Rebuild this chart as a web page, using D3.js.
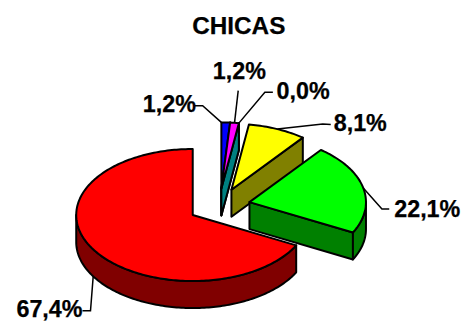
<!DOCTYPE html>
<html><head><meta charset="utf-8">
<script src="https://cdn.jsdelivr.net/npm/d3@7/dist/d3.min.js"></script>
<style>html,body{margin:0;padding:0;background:#fff}svg{display:block}text{font-family:"Liberation Sans",Arial,sans-serif;font-weight:bold;fill:#000;stroke:#000;stroke-width:.25px}</style>
</head><body><div id="c"></div>
<script>
const title = "CHICAS";
const categories = ["a","b","c","d","e","f"];
const values = [1.2, 1.2, 0.0, 8.1, 22.1, 67.4];
const labels = ["1,2%","1,2%","0,0%","8,1%","22,1%","67,4%"];
const topColors = ["#0000ff","#ff00ff","#00ffff","#ffff00","#00ff00","#ff0000"];
const sideColors = ["#000080","#800080","#008080","#808000","#008000","#800000"];

const W=476,H=323, cx=219.2, cy=205.9, rx=116.5, ry=66, depth=27, explode=0.266, SW=2;
const svg=d3.select("#c").append("svg").attr("width",W).attr("height",H);
const x=d3.scaleLinear().domain([-1,1]).range([cx-rx,cx+rx]);
const y=d3.scaleLinear().domain([-1,1]).range([cy-ry,cy+ry]);
const pie=d3.pie().value(d=>d).sort(null);
const arcs=pie(values);
const tau=Math.PI*2;
const clusterBelow=0.05, clusterAngle=4*Math.PI/180; // tiny slices move out together
const P=(u,v,dz=0)=>[x(u),y(v)+dz];
function apex(a){const m=a.endAngle<tau*clusterBelow?clusterAngle:(a.startAngle+a.endAngle)/2;return [explode*Math.sin(m),-explode*Math.cos(m)];}
function rim(a,t,dz=0){const o=apex(a);return P(o[0]+Math.sin(t),o[1]-Math.cos(t),dz);}
function rimPts(a,t0,t1,dz=0){const n=Math.max(1,Math.ceil((t1-t0)/0.02));return d3.range(n+1).map(i=>rim(a,t0+(t1-t0)*i/n,dz));}
const line=d3.line();
const g=svg.append("g").attr("stroke","#000").attr("stroke-width",SW).attr("stroke-linejoin","round");
function poly(pts,fill){g.append("path").attr("d",line(pts)+"Z").attr("fill",fill);}

// side walls
arcs.forEach((a,i)=>{
  const o=apex(a), c=P(o[0],o[1]), cd=P(o[0],o[1],depth);
  if(Math.sin(a.endAngle)>1e-6){
    const e=rim(a,a.endAngle), ed=rim(a,a.endAngle,depth);
    poly([c,e,ed,cd],sideColors[i]);
  }
  const lo=Math.max(a.startAngle,tau/4), hi=Math.min(a.endAngle,tau*3/4);
  if(hi>lo){
    poly(rimPts(a,lo,hi).concat(rimPts(a,lo,hi,depth).reverse()),sideColors[i]);
  }
});
// top faces
arcs.forEach((a,i)=>{
  if(a.endAngle-a.startAngle<1e-6) return;
  const o=apex(a);
  poly([P(o[0],o[1])].concat(rimPts(a,a.startAngle,a.endAngle)),topColors[i]);
});

// leaders: elbow and text offsets from each slice's anchor on the rim
const anchorFrac=[0,0.5,0.5,0.5,0.5,0.5];
const anchorDepth=[0,0,0,0,0,depth];
const elbowOffset=[[-18.7,-16.7],[3.7,-32.1],[26,-30.8],[45.4,-5.1],[18.7,21.1],[-2.7,34.4]];
const endOffset=[[-26.4,-16.7],[3.7,-32.1],[34,-30.8],[53.4,-4.6],[26,21.1],[-10.7,34.4]];
const labelAnchor=["end","middle","start","start","start","end"];
const labelOffset=[[-25.4,-10.4],[4.9,-43.8],[37.7,-24.1],[56.4,1.9],[31,28.8],[-10.7,40.4]];
const lg=svg.append("g").attr("fill","none").attr("stroke","#000").attr("stroke-width",1.5);
arcs.forEach((a,i)=>{
  const t=a.startAngle+(a.endAngle-a.startAngle)*anchorFrac[i];
  const p=rim(a,t,anchorDepth[i]);
  const q=[p[0]+elbowOffset[i][0],p[1]+elbowOffset[i][1]];
  const r=[p[0]+endOffset[i][0],p[1]+endOffset[i][1]];
  lg.append("path").attr("d",line([p,q,r]));
  svg.append("text").attr("x",p[0]+labelOffset[i][0]).attr("y",p[1]+labelOffset[i][1])
    .attr("text-anchor",labelAnchor[i]).attr("font-size",23.3).text(labels[i]);
});
svg.append("text").attr("x",238.8).attr("y",33.5).attr("text-anchor","middle").attr("font-size",24.3).text(title);
</script></body></html>
